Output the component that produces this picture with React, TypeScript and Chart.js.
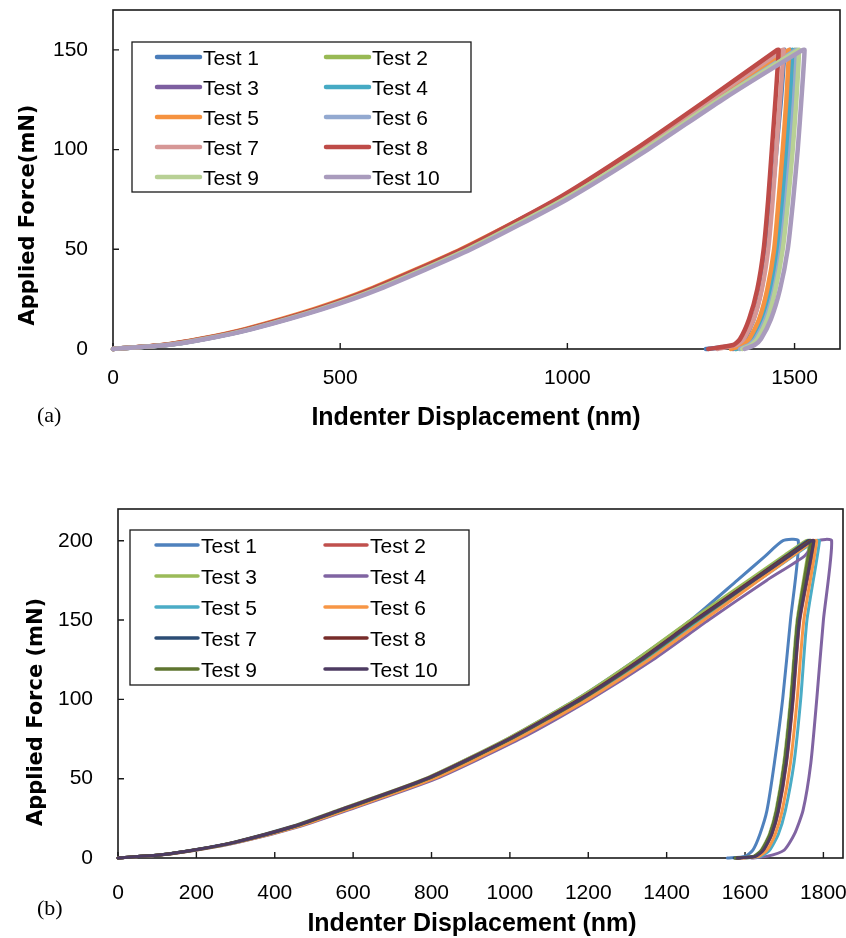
import React, { useEffect, useRef } from "react";
import { Chart, registerables } from "chart.js";

Chart.register(...registerables);

// ---------------- shared ----------------
const TEST_LABELS = ["Test 1", "Test 2", "Test 3", "Test 4", "Test 5", "Test 6", "Test 7", "Test 8", "Test 9", "Test 10"];

// ---------------- panel (a) ----------------
const A_COLORS = ["#4A7DBA", "#98B954", "#7D5FA0", "#46AAC4", "#F59240", "#93A9D0", "#D69796", "#BE4B48", "#B8D095", "#A99BBD"];
const A_X_TICKS = [0, 500, 1000, 1500];
const A_Y_TICKS = [0, 50, 100, 150];
const A_LOAD_FORCE = [0, 2, 5, 10, 20, 30, 50, 75, 100, 125, 150];
const A_LOAD_DISP = [
  [0, 112, 195, 296, 450, 573, 773, 981, 1153, 1315, 1478],
  [0, 115, 198, 300, 453, 577, 777, 988, 1165, 1329, 1500],
  [0, 116, 199, 300, 454, 578, 778, 987, 1163, 1325, 1490],
  [0, 117, 200, 302, 455, 579, 779, 989, 1166, 1329, 1495],
  [0, 108, 190, 290, 442, 565, 766, 978, 1156, 1319, 1488],
  [0, 118, 201, 303, 457, 581, 782, 992, 1169, 1333, 1503],
  [0, 113, 196, 297, 450, 572, 772, 981, 1155, 1315, 1474],
  [0, 110, 193, 294, 447, 569, 768, 975, 1148, 1307, 1462],
  [0, 117, 200, 302, 456, 580, 781, 991, 1169, 1333, 1508],
  [0, 120, 204, 306, 461, 586, 788, 999, 1177, 1341, 1518],
];
const A_UNLOAD_FORCE = [150, 125, 100, 75, 50, 30, 15, 5, 2, 0];
const A_UNLOAD_DISP = [
  [1478, 1470, 1460, 1450, 1440, 1427, 1410, 1390, 1375, 1305],
  [1500, 1494, 1487, 1478, 1466, 1450, 1432, 1410, 1395, 1372],
  [1490, 1484, 1476, 1468, 1458, 1444, 1426, 1404, 1390, 1365],
  [1495, 1490, 1483, 1474, 1463, 1448, 1430, 1408, 1393, 1370],
  [1488, 1482, 1474, 1465, 1455, 1440, 1422, 1400, 1385, 1360],
  [1505, 1499, 1491, 1482, 1470, 1455, 1436, 1414, 1400, 1380],
  [1476, 1468, 1460, 1452, 1442, 1428, 1410, 1388, 1372, 1330],
  [1465, 1458, 1450, 1442, 1432, 1418, 1400, 1380, 1365, 1310],
  [1510, 1504, 1496, 1486, 1474, 1458, 1440, 1418, 1404, 1385],
  [1522, 1515, 1507, 1497, 1485, 1468, 1448, 1426, 1412, 1390],
];

// ---------------- panel (b) ----------------
const B_COLORS = ["#4F81BD", "#C0504D", "#9BBB59", "#8064A2", "#4BACC6", "#F79646", "#2C4D75", "#772C2A", "#5F7530", "#4D3B62"];
const B_X_TICKS = [0, 200, 400, 600, 800, 1000, 1200, 1400, 1600, 1800];
const B_Y_TICKS = [0, 50, 100, 150, 200];
const B_LOAD_FORCE = [0, 2, 5, 10, 20, 30, 50, 75, 100, 125, 150, 175, 190, 200];
const B_LOAD_DISP = [
  [0, 108, 192, 296, 445, 560, 785, 993, 1170, 1322, 1462, 1580, 1650, 1697],
  [0, 112, 198, 305, 458, 575, 802, 1014, 1195, 1350, 1490, 1629, 1712, 1768],
  [0, 108, 193, 297, 446, 560, 784, 992, 1170, 1322, 1462, 1608, 1696, 1755],
  [0, 114, 202, 310, 465, 585, 812, 1025, 1205, 1365, 1507, 1655, 1750, 1786],
  [0, 112, 198, 304, 456, 572, 798, 1010, 1190, 1346, 1488, 1634, 1721, 1780],
  [0, 113, 200, 306, 460, 578, 805, 1017, 1198, 1355, 1495, 1635, 1719, 1775],
  [0, 110, 195, 300, 450, 566, 790, 1000, 1180, 1335, 1475, 1617, 1703, 1760],
  [0, 109, 194, 298, 448, 563, 787, 997, 1177, 1332, 1472, 1618, 1706, 1765],
  [0, 110, 196, 301, 452, 568, 792, 1002, 1183, 1338, 1478, 1623, 1710, 1768],
  [0, 110, 195, 300, 450, 565, 789, 999, 1180, 1335, 1475, 1622, 1711, 1770],
];
const B_UNLOAD_FORCE = [200, 150, 100, 60, 30, 15, 5, 1, 0];
const B_UNLOAD_DISP = [
  [1736, 1716, 1696, 1675, 1656, 1638, 1620, 1600, 1555],
  [1778, 1740, 1723, 1706, 1686, 1669, 1648, 1628, 1582],
  [1765, 1733, 1716, 1699, 1679, 1662, 1641, 1621, 1575],
  [1821, 1800, 1783, 1768, 1748, 1726, 1700, 1655, 1617],
  [1790, 1758, 1742, 1725, 1703, 1685, 1663, 1640, 1600],
  [1783, 1750, 1733, 1716, 1695, 1677, 1656, 1635, 1595],
  [1770, 1735, 1718, 1701, 1681, 1664, 1643, 1623, 1572],
  [1772, 1737, 1720, 1703, 1683, 1666, 1645, 1625, 1578],
  [1768, 1735, 1718, 1701, 1681, 1664, 1643, 1623, 1575],
  [1776, 1739, 1722, 1705, 1685, 1668, 1647, 1627, 1580],
];

// ---------------- layout configs ----------------
const PANEL_A = {
  colors: A_COLORS,
  loadForce: A_LOAD_FORCE,
  loadDisp: A_LOAD_DISP,
  unloadForce: A_UNLOAD_FORCE,
  unloadDisp: A_UNLOAD_DISP,
  xTicks: A_X_TICKS,
  yTicks: A_Y_TICKS,
  xMax: 1600,
  yMax: 170,
  lineWidth: 4.5,
  padding: { top: 10, right: 6, left: 0, bottom: 0 },
  yAxisWidth: 113,
  xAxisHeight: 111,
  xTickPad: 9,
  yTickPad: 17,
  yTitle: "Applied Force(mN)",
  yTitlePos: [34, 215],
  xTitle: "Indenter Displacement (nm)",
  xTitlePos: [476, 425],
  tag: "(a)",
  tagPos: [37, 422],
  legend: { box: [132, 42, 339, 150], cols: [157, 326], row0: 57, rowStep: 30, lineLen: 43, textGap: 3, lineWidth: 4.5 },
};

const PANEL_B = {
  colors: B_COLORS,
  loadForce: B_LOAD_FORCE,
  loadDisp: B_LOAD_DISP,
  unloadForce: B_UNLOAD_FORCE,
  unloadDisp: B_UNLOAD_DISP,
  xTicks: B_X_TICKS,
  yTicks: B_Y_TICKS,
  xMax: 1850,
  yMax: 220,
  lineWidth: 3,
  padding: { top: 49, right: 3, left: 0, bottom: 0 },
  yAxisWidth: 118,
  xAxisHeight: 80,
  xTickPad: 15,
  yTickPad: 17,
  yTitle: "Applied Force (mN)",
  yTitlePos: [42, 252],
  xTitle: "Indenter Displacement (nm)",
  xTitlePos: [472, 471],
  tag: "(b)",
  tagPos: [37, 455],
  legend: { box: [130, 70, 339, 155], cols: [156, 325], row0: 85, rowStep: 31, lineLen: 42, textGap: 3, lineWidth: 3.5 },
};

const SANS = "'Liberation Sans', Arial, sans-serif";

function framePlugin(p: any) {
  return {
    id: "frameTicks",
    beforeDatasetsDraw(chart: any) {
      const { ctx, chartArea: a, scales } = chart;
      ctx.save();
      ctx.strokeStyle = "#1a1a1a";
      ctx.lineWidth = 1.6;
      ctx.strokeRect(a.left, a.top, a.right - a.left, a.bottom - a.top);
      ctx.lineWidth = 1.4;
      ctx.beginPath();
      for (const v of p.xTicks) {
        const px = scales.x.getPixelForValue(v);
        ctx.moveTo(px, a.bottom);
        ctx.lineTo(px, a.bottom - 6);
      }
      for (const v of p.yTicks) {
        const py = scales.y.getPixelForValue(v);
        ctx.moveTo(a.left, py);
        ctx.lineTo(a.left + 6, py);
      }
      ctx.stroke();
      ctx.restore();
    },
  };
}

function overlayPlugin(p: any) {
  return {
    id: "overlayText",
    afterDraw(chart: any) {
      const { ctx } = chart;
      ctx.save();
      // legend box
      const L = p.legend;
      const [bx, by, bw, bh] = L.box;
      ctx.fillStyle = "#ffffff";
      ctx.fillRect(bx, by, bw, bh);
      ctx.strokeStyle = "#1a1a1a";
      ctx.lineWidth = 1.3;
      ctx.strokeRect(bx, by, bw, bh);
      ctx.font = `21px ${SANS}`;
      ctx.textAlign = "left";
      ctx.textBaseline = "alphabetic";
      chart.data.datasets.forEach((ds: any, i: number) => {
        const col = i % 2;
        const row = Math.floor(i / 2);
        const x = L.cols[col];
        const y = L.row0 + row * L.rowStep;
        ctx.strokeStyle = ds.borderColor;
        ctx.lineWidth = L.lineWidth;
        ctx.lineCap = "round";
        ctx.beginPath();
        ctx.moveTo(x, y);
        ctx.lineTo(x + L.lineLen, y);
        ctx.stroke();
        ctx.fillStyle = "#000";
        ctx.fillText(ds.label, x + L.lineLen + L.textGap, y + 7.5);
      });
      // y title
      ctx.save();
      ctx.translate(p.yTitlePos[0], p.yTitlePos[1]);
      ctx.rotate(-Math.PI / 2);
      ctx.font = `bold 21px 'DejaVu Sans', Verdana, sans-serif`;
      ctx.textAlign = "center";
      ctx.textBaseline = "alphabetic";
      ctx.fillStyle = "#000";
      ctx.fillText(p.yTitle, 0, 0);
      ctx.restore();
      // x title
      ctx.font = `bold 25px ${SANS}`;
      ctx.textAlign = "center";
      ctx.textBaseline = "alphabetic";
      ctx.fillStyle = "#000";
      ctx.fillText(p.xTitle, p.xTitlePos[0], p.xTitlePos[1]);
      // panel tag
      ctx.font = `22px 'Liberation Serif', 'Times New Roman', serif`;
      ctx.textAlign = "left";
      ctx.fillText(p.tag, p.tagPos[0], p.tagPos[1]);
      ctx.restore();
    },
  };
}

function makeChart(canvas: HTMLCanvasElement, p: any) {
  const datasets = TEST_LABELS.map((label, i) => ({
    label,
    data: [
      ...p.loadForce.map((f: number, k: number) => ({ x: p.loadDisp[i][k], y: f })),
      ...p.unloadForce.map((f: number, k: number) => ({ x: p.unloadDisp[i][k], y: f })),
    ],
    showLine: true,
    borderColor: p.colors[i],
    backgroundColor: p.colors[i],
    borderWidth: p.lineWidth,
    pointRadius: 0,
    pointHoverRadius: 0,
    tension: 0.2,
    clip: false,
    order: TEST_LABELS.length - i,
    borderCapStyle: "round",
    borderJoinStyle: "round",
  }));
  const tickFont = { family: SANS, size: 21 };
  return new Chart(canvas, {
    type: "scatter",
    data: { datasets } as any,
    options: {
      responsive: false,
      animation: false,
      devicePixelRatio: 1,
      events: [],
      layout: { padding: p.padding },
      plugins: { legend: { display: false }, tooltip: { enabled: false } },
      scales: {
        x: {
          type: "linear",
          min: 0,
          max: p.xMax,
          grid: { display: false },
          border: { display: false },
          ticks: { font: tickFont, color: "#000", padding: p.xTickPad, maxRotation: 0, autoSkip: false, callback: (v: any) => String(v) },
          afterBuildTicks: (s: any) => {
            s.ticks = p.xTicks.map((v: number) => ({ value: v }));
          },
          afterFit: (s: any) => {
            s.height = p.xAxisHeight;
            s.paddingLeft = 0;
            s.paddingRight = 0;
          },
        },
        y: {
          type: "linear",
          min: 0,
          max: p.yMax,
          grid: { display: false },
          border: { display: false },
          ticks: { font: tickFont, color: "#000", padding: p.yTickPad, autoSkip: false, callback: (v: any) => String(v) },
          afterBuildTicks: (s: any) => {
            s.ticks = p.yTicks.map((v: number) => ({ value: v }));
          },
          afterFit: (s: any) => {
            s.width = p.yAxisWidth;
            s.paddingTop = 0;
            s.paddingBottom = 0;
          },
        },
      },
    } as any,
    plugins: [framePlugin(p), overlayPlugin(p)],
  });
}

export default function App() {
  const refA = useRef<HTMLCanvasElement>(null);
  const refB = useRef<HTMLCanvasElement>(null);
  useEffect(() => {
    const a = makeChart(refA.current as HTMLCanvasElement, PANEL_A);
    const b = makeChart(refB.current as HTMLCanvasElement, PANEL_B);
    return () => {
      a.destroy();
      b.destroy();
    };
  }, []);
  return (
    <div style={{ position: "absolute", left: 0, top: 0, width: 846, height: 938, background: "#fff" }}>
      <canvas ref={refA} width={846} height={460} style={{ position: "absolute", left: 0, top: 0, width: 846, height: 460 }} />
      <canvas ref={refB} width={846} height={478} style={{ position: "absolute", left: 0, top: 460, width: 846, height: 478 }} />
    </div>
  );
}
